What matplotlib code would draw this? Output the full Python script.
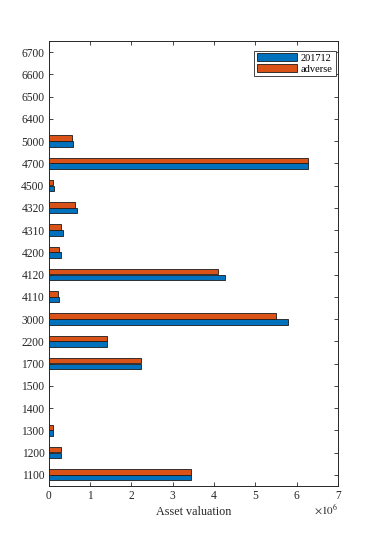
import numpy as np
import matplotlib
matplotlib.use('Agg')
import matplotlib.pyplot as plt

# categories (bottom to top) and valuations in units of 1e6
categories = ['1100', '1200', '1300', '1400', '1500', '1700', '2200', '3000', '4110', '4120',
              '4200', '4310', '4320', '4500', '4700', '5000', '6400', '6500', '6600', '6700']
base_2017 = [3.45, 0.31, 0.10, 0.01, 0.02, 2.24, 1.42, 5.79, 0.24, 4.27,
             0.29, 0.35, 0.69, 0.135, 6.28, 0.60, 0.005, 0.01, 0.0, 0.005]
adverse = [3.44, 0.30, 0.10, 0.005, 0.015, 2.24, 1.41, 5.49, 0.22, 4.09,
           0.26, 0.31, 0.65, 0.11, 6.28, 0.555, 0.004, 0.008, 0.0, 0.004]

plt.rcParams['font.family'] = ['Liberation Serif', 'DejaVu Serif']

fig = plt.figure(figsize=(3.74, 5.46), dpi=100)
ax = fig.add_axes([0.130, 0.110, 0.774, 0.815])

y = np.arange(len(categories))
h = 0.25
ax.barh(y - 0.13, np.array(base_2017) * 1e6, height=h, color='#0072BD',
        edgecolor='#1a1a1a', linewidth=0.6, label='201712')
ax.barh(y + 0.13, np.array(adverse) * 1e6, height=h, color='#D95319',
        edgecolor='#1a1a1a', linewidth=0.6, label='adverse')

ax.set_xlim(0, 7e6)
ax.set_ylim(-0.5, len(categories) - 0.5)
ax.set_xticks(np.arange(0, 8) * 1e6)
ax.set_xticklabels([str(i) for i in range(8)])
ax.set_yticks(y)
ax.set_yticklabels(categories)
ax.tick_params(direction='in', length=3, width=0.6, labelsize=8.3,
               top=True, right=True, colors='#262626', pad=3)
for s in ax.spines.values():
    s.set_linewidth(0.7)
    s.set_color('#262626')

ax.set_xlabel('Asset valuation', fontsize=8.7, color='#262626', labelpad=2.5)
ax.text(1.0, -0.063, r'$\times10^{6}$', transform=ax.transAxes, ha='right', va='baseline',
        fontsize=8, color='#262626', math_fontfamily='stix')

leg = ax.legend(loc='upper right', bbox_to_anchor=(335.5 / 374, 1 - 50.5 / 546),
                bbox_transform=fig.transFigure, borderaxespad=0,
                fontsize=7.5, handlelength=3.9, handleheight=0.8,
                borderpad=0.25, labelspacing=0.15, handletextpad=0.35,
                fancybox=False, framealpha=1, edgecolor='#262626')
leg.get_frame().set_linewidth(0.6)

fig.savefig('out.png', dpi=100)
